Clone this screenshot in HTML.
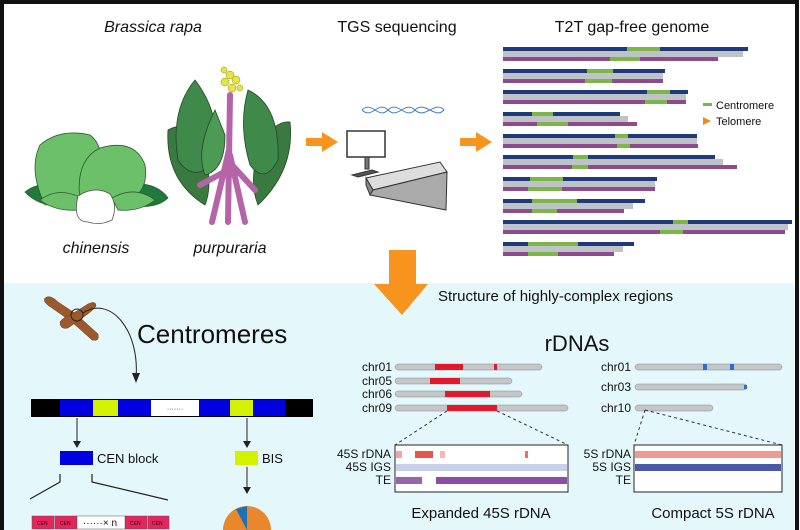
<!DOCTYPE html><html><head><meta charset="utf-8"><style>
html,body{margin:0;padding:0;background:#fff}
svg{display:block}
text{font-family:"Liberation Sans",Arial,sans-serif;fill:#111}
</style></head><body>
<svg width="800" height="530" viewBox="0 0 800 530" xmlns="http://www.w3.org/2000/svg">
<rect x="0" y="0" width="800" height="530" fill="#fff"/>
<rect x="3" y="283" width="791" height="247" fill="#e4f7fa"/>
<path d="M2,530 V2 H797 V530" fill="none" stroke="#111" stroke-width="4"/>

<text x="153" y="32" font-size="16" font-style="italic" text-anchor="middle">Brassica rapa</text>
<text x="397" y="32" font-size="16" text-anchor="middle">TGS sequencing</text>
<text x="632" y="32" font-size="16" text-anchor="middle">T2T gap-free genome</text>
<text x="96" y="253" font-size="16" font-style="italic" text-anchor="middle">chinensis</text>
<text x="230" y="253" font-size="16" font-style="italic" text-anchor="middle">purpuraria</text>

<!-- chinensis plant -->
<g stroke="#2d5a2d" stroke-width="0.8">
<path d="M25,192 Q40,180 70,185 L65,205 Q40,208 25,192Z" fill="#1f7a3c"/>
<path d="M168,198 Q155,180 125,185 L130,205 Q155,210 168,198Z" fill="#1f7a3c"/>
<path d="M45,205 Q28,170 40,145 Q60,128 90,135 Q110,150 95,200 Z" fill="#6cc06a"/>
<path d="M80,200 Q75,160 100,148 Q135,138 145,165 Q150,195 120,205 Z" fill="#6cc06a"/>
<path d="M40,200 Q60,185 85,200 L80,210 Q55,212 40,200Z" fill="#6cc06a"/>
<path d="M155,200 Q135,185 112,198 L118,210 Q140,212 155,200Z" fill="#6cc06a"/>
<path d="M78,196 Q72,222 88,222 Q100,226 112,220 Q118,205 110,194 Q95,185 78,196Z" fill="#fff" stroke="#555"/>
</g>
<!-- purpuraria plant -->
<g stroke="#1d4a25" stroke-width="0.8">
<path d="M168,130 Q165,180 205,205 Q215,180 200,140 Q185,120 168,130Z" fill="#3a7a40"/>
<path d="M290,122 Q295,170 258,205 Q248,180 260,145 Q275,120 290,122Z" fill="#3a7a40"/>
<path d="M195,80 Q170,110 178,160 Q195,185 215,160 Q222,115 195,80Z" fill="#3f8a4a"/>
<path d="M248,90 Q280,105 278,160 Q265,185 250,165 Q238,125 248,90Z" fill="#3f8a4a"/>
<path d="M215,110 Q195,150 205,175 Q225,170 225,135 Z" fill="#4d9a55"/>
</g>
<path d="M230,95 L228,222 M229,150 L212,222 M230,155 L245,222 M228,170 L200,185 M232,165 L255,190" stroke="#b564a8" stroke-width="6" fill="none" stroke-linecap="round"/>
<g fill="#e6e640" stroke="#8a8a20" stroke-width="0.5">
<circle cx="230" cy="75" r="4"/><circle cx="236" cy="80" r="4"/><circle cx="225" cy="82" r="4"/><circle cx="232" cy="88" r="4"/><circle cx="240" cy="88" r="3"/><circle cx="224" cy="70" r="3"/>
</g>

<!-- small arrows -->
<path d="M306,138 H322 V132 L338,142 L322,152 V146 H306Z" fill="#f7941d"/>
<path d="M460,138 H476 V132 L492,142 L476,152 V146 H460Z" fill="#f7941d"/>
<!-- sequencer -->
<g stroke="#333" stroke-width="1">
<path d="M362,110 C372,120 378,100 388,110 C398,120 405,100 415,110 C425,120 435,100 444,110" stroke="#3a7fc0" fill="none"/>
<path d="M362,110 C372,100 378,120 388,110 C398,100 405,120 415,110 C425,100 435,120 444,110" stroke="#3a7fc0" fill="none"/>
<rect x="347" y="131" width="38" height="26" fill="#fff" stroke-width="1.5"/>
<rect x="365" y="157" width="4" height="12" fill="#777"/>
<path d="M352,175 L372,170 L378,172 L358,177Z" fill="#555"/>
<path d="M366,178 L440,162 L447,172 L373,190Z" fill="#ddd"/>
<path d="M373,190 L447,172 L446,210 L370,195Z" fill="#aaa"/>
<path d="M366,178 L373,190 L370,195 L366,185Z" fill="#888"/>
</g>

<!-- genome -->
<g>
<g fill="#bfc3c8">
<rect x="503" y="51" width="240" height="6"/><rect x="503" y="73" width="160" height="6"/><rect x="503" y="94" width="183" height="6"/><rect x="503" y="116" width="125" height="6"/><rect x="503" y="138" width="194" height="6"/><rect x="503" y="159" width="220" height="6"/><rect x="503" y="181" width="152" height="6"/><rect x="503" y="203" width="130" height="6"/><rect x="503" y="224" width="285" height="6"/><rect x="503" y="246" width="120" height="6"/>
</g>
<g fill="#1f3a7a">
<rect x="503" y="47" width="245" height="4"/><rect x="503" y="69" width="162" height="4"/><rect x="503" y="90" width="185" height="4"/><rect x="503" y="112" width="117" height="4"/><rect x="503" y="134" width="194" height="4"/><rect x="503" y="155" width="212" height="4"/><rect x="503" y="177" width="154" height="4"/><rect x="503" y="199" width="142" height="4"/><rect x="503" y="220" width="289" height="4"/><rect x="503" y="242" width="131" height="4"/>
</g>
<g fill="#8e4a8e">
<rect x="503" y="57" width="215" height="4"/><rect x="503" y="79" width="160" height="4"/><rect x="503" y="100" width="183" height="4"/><rect x="503" y="122" width="134" height="4"/><rect x="503" y="144" width="195" height="4"/><rect x="503" y="165" width="234" height="4"/><rect x="503" y="187" width="152" height="4"/><rect x="503" y="209" width="121" height="4"/><rect x="503" y="230" width="282" height="4"/><rect x="503" y="252" width="111" height="4"/>
</g>
<g fill="#7ab648">
<rect x="627" y="47" width="33" height="4"/><rect x="610" y="57" width="30" height="4"/>
<rect x="587" y="69" width="26" height="4"/><rect x="585" y="79" width="27" height="4"/>
<rect x="647" y="90" width="23" height="4"/><rect x="645" y="100" width="22" height="4"/>
<rect x="532" y="112" width="21" height="4"/><rect x="537" y="122" width="31" height="4"/>
<rect x="615" y="134" width="13" height="4"/><rect x="617" y="144" width="13" height="4"/>
<rect x="573" y="155" width="15" height="4"/><rect x="572" y="165" width="16" height="4"/>
<rect x="530" y="177" width="33" height="4"/><rect x="528" y="187" width="34" height="4"/>
<rect x="532" y="199" width="45" height="4"/><rect x="532" y="209" width="25" height="4"/>
<rect x="673" y="220" width="15" height="4"/><rect x="660" y="230" width="23" height="4"/>
<rect x="528" y="242" width="50" height="4"/><rect x="528" y="252" width="30" height="4"/>
</g>
<rect x="703" y="103" width="9" height="3" fill="#7ab648"/>
<text x="716" y="109" font-size="11">Centromere</text>
<path d="M703,117 L711,121 L703,125Z" fill="#f08a1c"/>
<text x="716" y="125" font-size="11">Telomere</text>
</g>

<!-- big arrow -->
<path d="M389,250 H416 V284 H428 L402,315 L374,284 H389Z" fill="#f7941d"/>
<text x="438" y="301" font-size="15">Structure of highly-complex regions</text>

<!-- centromeres -->
<g stroke="#6b3a1f" stroke-width="0.5" fill="#9c5a2c">
<path d="M45,298 Q50,294 58,302 L76,314 L98,334 Q100,342 92,340 L72,322 L52,308 Q42,302 45,298Z"/>
<path d="M60,322 Q62,318 72,314 L88,304 Q96,300 96,306 Q94,310 82,318 L68,328 Q60,330 60,322Z"/>
</g>
<circle cx="77" cy="315" r="6" fill="none" stroke="#222" stroke-width="1"/>
<path d="M83,313 C110,295 140,330 136,378" fill="none" stroke="#222"/>
<path d="M132,373 L136,383 L140,373Z" fill="#222"/>
<text x="137" y="343" font-size="26">Centromeres</text>

<rect x="31" y="399" width="282" height="18" fill="#000"/>
<rect x="60" y="400" width="33" height="16" fill="#0000e0"/>
<rect x="93" y="400" width="25" height="16" fill="#d4f200"/>
<rect x="118" y="400" width="33" height="16" fill="#0000e0"/>
<rect x="151" y="400" width="48" height="16" fill="#fff"/>
<text x="175" y="411" font-size="7" text-anchor="middle" fill="#777">·······</text>
<rect x="199" y="400" width="31" height="16" fill="#0000e0"/>
<rect x="230" y="400" width="23" height="16" fill="#d4f200"/>
<rect x="253" y="400" width="32" height="16" fill="#0000e0"/>
<g stroke="#222"><line x1="77" y1="418" x2="77" y2="442"/><line x1="247" y1="418" x2="247" y2="442"/><line x1="247" y1="467" x2="247" y2="488"/></g>
<path d="M73,441 L77,448 L81,441Z M243,441 L247,448 L251,441Z M243,487 L247,494 L251,487Z" fill="#222"/>
<rect x="60" y="451" width="33" height="14" fill="#0000e0"/>
<text x="97" y="463" font-size="13">CEN block</text>
<rect x="235" y="451" width="23" height="14" fill="#d4f200"/>
<text x="262" y="463" font-size="13">BIS</text>
<path d="M60,474 V482 L30,499 M92,474 V482 L168,500" fill="none" stroke="#222" stroke-width="1.2"/>
<g fill="#e8245c" stroke="#555" stroke-width="0.5">
<rect x="32" y="516" width="22" height="13"/><rect x="55" y="516" width="22" height="13"/><rect x="125" y="516" width="22" height="13"/><rect x="148" y="516" width="21" height="13"/>
</g>
<rect x="77" y="516" width="48" height="13" fill="#fff" stroke="#555" stroke-width="0.5"/>
<text x="100" y="526" font-size="10" text-anchor="middle">······× n</text>
<g font-size="5"><text x="37" y="525" fill="#fff">CEN</text><text x="60" y="525" fill="#fff">CEN</text><text x="130" y="525" fill="#fff">CEN</text><text x="152" y="525" fill="#fff">CEN</text></g>
<circle cx="247" cy="530" r="24" fill="#e8872c"/>
<path d="M247,530 L247,506 L236,509Z" fill="#1f6fb5"/>

<!-- rDNAs -->
<text x="577" y="351" font-size="22" text-anchor="middle">rDNAs</text>
<g font-size="12" text-anchor="end">
<text x="392" y="371">chr01</text><text x="392" y="385">chr05</text><text x="392" y="398">chr06</text><text x="392" y="412">chr09</text>
<text x="631" y="371">chr01</text><text x="631" y="391">chr03</text><text x="631" y="412">chr10</text>
<text x="391" y="458">45S rDNA</text><text x="391" y="471">45S IGS</text><text x="391" y="484">TE</text>
<text x="631" y="458">5S rDNA</text><text x="631" y="471">5S IGS</text><text x="631" y="484">TE</text>
</g>
<g fill="#c4c6c9" stroke="#888" stroke-width="0.5">
<rect x="395" y="364" width="147" height="6" rx="3"/><rect x="395" y="378" width="117" height="6" rx="3"/><rect x="395" y="391" width="127" height="6" rx="3"/><rect x="395" y="405" width="173" height="6" rx="3"/>
<rect x="635" y="364" width="147" height="6" rx="3"/><rect x="635" y="384" width="112" height="6" rx="3"/><rect x="635" y="405" width="78" height="6" rx="3"/>
</g>
<g fill="#e3182d">
<rect x="435" y="364" width="28" height="6"/><rect x="430" y="378" width="30" height="6"/><rect x="445" y="391" width="45" height="6"/><rect x="447" y="405" width="50" height="6"/><rect x="494" y="364" width="3" height="6"/>
</g>
<g fill="#2a6fd1"><rect x="703" y="364" width="4" height="6"/><rect x="730" y="364" width="4" height="6"/><rect x="744" y="385" width="3" height="4"/></g>
<g stroke="#333" stroke-dasharray="3,3" fill="none">
<path d="M447,411 L395,445 M497,411 L568,445 M645,410 L634,445 M645,410 L782,445"/>
</g>
<rect x="395" y="445" width="173" height="47" fill="#fff" stroke="#222"/>
<rect x="634" y="445" width="148" height="47" fill="#fff" stroke="#222"/>
<g>
<rect x="396" y="451" width="6" height="7" fill="#f2a3a3"/><rect x="415" y="451" width="18" height="7" fill="#e8554e"/><rect x="440" y="451" width="5" height="7" fill="#f2b8b8"/><rect x="525" y="451" width="3" height="7" fill="#e87070"/>
<rect x="396" y="464" width="171" height="7" fill="#c8d0ea"/>
<rect x="396" y="477" width="26" height="7" fill="#9a63b0"/><rect x="436" y="477" width="131" height="7" fill="#8a4ea6"/>
<rect x="635" y="451" width="146" height="7" fill="#ee9a95"/>
<rect x="635" y="464" width="146" height="7" fill="#4a5aa8"/>
</g>
<text x="481" y="518" font-size="15" text-anchor="middle">Expanded 45S rDNA</text>
<text x="713" y="518" font-size="15" text-anchor="middle">Compact 5S rDNA</text>
</svg>
</body></html>
